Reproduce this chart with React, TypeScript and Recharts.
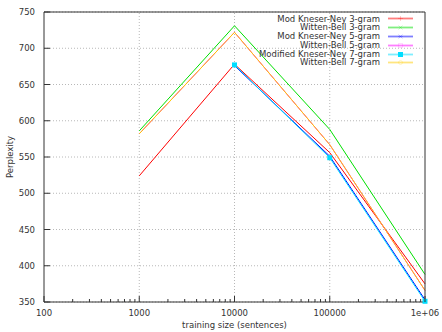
import React from 'react';
import { LineChart, Line, XAxis, YAxis, CartesianGrid, Legend, ReferenceLine } from 'recharts';

// training sizes (sentences)
const sizes = [1000, 10000, 100000, 1000000];

// perplexity per model
const modKN3 = [524, 678, 556, 375];
const wittenBell3 = [586, 731, 588, 388];
const modKN5 = [null, 676, 551, 353];
const wittenBell5 = [582, 722, 567, 366];
const modKN7 = [null, 677, 549, 351];
const wittenBell7 = [582, 722, 567, 366];

const xMajorTicks = [100, 1000, 10000, 100000, 1000000];
const xMinorTicks = [
  200, 300, 400, 500, 600, 700, 800, 900,
  2000, 3000, 4000, 5000, 6000, 7000, 8000, 9000,
  20000, 30000, 40000, 50000, 60000, 70000, 80000, 90000,
  200000, 300000, 400000, 500000, 600000, 700000, 800000, 900000,
];
const yTicks = [350, 400, 450, 500, 550, 600, 650, 700, 750];
const gridX = [1000, 10000, 100000];

const FONT = 'DejaVu Sans, sans-serif';
const TEXT = '#333';
const BORDER = '#333';

const series = [
  { key: 'mkn3', name: 'Mod Kneser-Ney 3-gram', color: '#ff0000', values: modKN3, mark: 'plus' },
  { key: 'wb3', name: 'Witten-Bell 3-gram', color: '#00e000', values: wittenBell3, mark: 'cross' },
  { key: 'mkn5', name: 'Mod Kneser-Ney 5-gram', color: '#0000ff', values: modKN5, mark: 'star' },
  { key: 'wb5', name: 'Witten-Bell 5-gram', color: '#ff00ff', values: wittenBell5, mark: 'box' },
  { key: 'mkn7', name: 'Modified Kneser-Ney 7-gram', color: '#00ddff', values: modKN7, mark: 'fbox' },
  { key: 'wb7', name: 'Witten-Bell 7-gram', color: '#ffcc00', values: wittenBell7, mark: 'circle' },
];

const data = sizes.map((s, i) => {
  const row: Record<string, number | null> = { size: s };
  series.forEach(se => { row[se.key] = se.values[i]; });
  return row;
});

const isMajor = (v: number) => xMajorTicks.includes(v);
const fmtX = (v: number) => (v >= 1000000 ? '1e+06' : String(v));

const BottomTick = (props: any) => {
  const { x, y, payload } = props;
  const major = isMajor(payload.value);
  return (
    <g>
      <line x1={x} x2={x} y1={y} y2={y - (major ? 6 : 3)} stroke={BORDER} />
      {major && (
        <text x={x} y={y + 14} textAnchor="middle" fill={TEXT} fontSize={8.5} fontFamily={FONT}>
          {fmtX(payload.value)}
        </text>
      )}
    </g>
  );
};

const TopTick = (props: any) => {
  const { x, y, payload } = props;
  const major = isMajor(payload.value);
  return <line x1={x} x2={x} y1={y} y2={y + (major ? 6 : 3)} stroke={BORDER} />;
};

const LeftTick = (props: any) => {
  const { x, y, payload } = props;
  return (
    <g>
      <line x1={x} x2={x + 6} y1={y} y2={y} stroke={BORDER} />
      <text x={x - 9} y={y + 3} textAnchor="end" fill={TEXT} fontSize={8.5} fontFamily={FONT}>
        {payload.value}
      </text>
    </g>
  );
};

const RightTick = (props: any) => {
  const { x, y } = props;
  return <line x1={x} x2={x - 6} y1={y} y2={y} stroke={BORDER} />;
};

const SquareDot = (props: any) => {
  const { cx, cy, index, stroke } = props;
  if (cx == null || cy == null) return <g key={index} />;
  return <rect key={index} x={cx - 2.5} y={cy - 2.5} width={5} height={5} fill={stroke} />;
};

// faint point symbols in the key, like the gnuplot sample
const Marker = ({ mark, color }: { mark: string; color: string }) => {
  const c = 12.5, m = 4.5;
  switch (mark) {
    case 'plus':
      return <path d={`M${c - 2.5},${m}H${c + 2.5}M${c},${m - 2.5}V${m + 2.5}`} stroke={color} strokeOpacity={0.2} />;
    case 'cross':
      return <path d={`M${c - 2},${m - 2}L${c + 2},${m + 2}M${c - 2},${m + 2}L${c + 2},${m - 2}`} stroke={color} strokeOpacity={0.2} />;
    case 'star':
      return <path d={`M${c - 2},${m - 2}L${c + 2},${m + 2}M${c - 2},${m + 2}L${c + 2},${m - 2}M${c - 2.5},${m}H${c + 2.5}`} stroke={color} strokeOpacity={0.2} />;
    case 'box':
      return <rect x={c - 2} y={m - 2} width={4} height={4} fill="none" stroke={color} strokeOpacity={0.15} />;
    case 'fbox':
      return <rect x={c - 2.5} y={m - 2.5} width={5} height={5} fill={color} />;
    default:
      return <circle cx={c} cy={m} r={2} fill="none" stroke={color} strokeOpacity={0.2} />;
  }
};

const KeyBox = () => (
  <div style={{ fontFamily: FONT, fontSize: 8.5, color: TEXT }}>
    {series.map(s => (
      <div
        key={s.key}
        style={{ display: 'flex', alignItems: 'center', justifyContent: 'flex-end', height: 8.8, lineHeight: '8.8px' }}
      >
        <span style={{ whiteSpace: 'nowrap' }}>{s.name}</span>
        <svg width={25} height={9} style={{ marginLeft: 8, display: 'block' }}>
          <line x1={0} x2={25} y1={4.5} y2={4.5} stroke={s.color} strokeWidth={1.8} strokeOpacity={0.5} />
          <Marker mark={s.mark} color={s.color} />
        </svg>
      </div>
    ))}
  </div>
);

export default function App() {
  return (
    <div style={{ position: 'absolute', left: 0, top: 0, background: '#fff' }}>
      <LineChart width={442} height={332} data={data} margin={{ top: 0, right: 0, bottom: 0, left: 0 }}>
        <CartesianGrid vertical={false} stroke="#b8b8b8" strokeDasharray="1 2" />
        {gridX.map(v => (
          <ReferenceLine key={v} x={v} stroke="#b8b8b8" strokeDasharray="1 2" />
        ))}
        <XAxis
          dataKey="size"
          type="number"
          scale="log"
          domain={[100, 1000000]}
          ticks={[...xMajorTicks, ...xMinorTicks]}
          interval={0}
          height={30}
          tickSize={0}
          tickMargin={0}
          tickLine={false}
          axisLine={{ stroke: BORDER }}
          tick={<BottomTick />}
          label={{
            content: (p: any) => {
              const vb = p.viewBox;
              return (
                <text x={vb.x + vb.width / 2} y={vb.y + 26} textAnchor="middle" fill={TEXT} fontSize={8.5} fontFamily={FONT}>
                  training size (sentences)
                </text>
              );
            },
          }}
        />
        <XAxis
          xAxisId="top"
          orientation="top"
          type="number"
          scale="log"
          domain={[100, 1000000]}
          ticks={[...xMajorTicks, ...xMinorTicks]}
          interval={0}
          height={12}
          tickSize={0}
          tickMargin={0}
          tickLine={false}
          axisLine={{ stroke: BORDER }}
          tick={<TopTick />}
        />
        <YAxis
          domain={[350, 750]}
          ticks={yTicks}
          interval={0}
          width={44}
          tickSize={0}
          tickMargin={0}
          tickLine={false}
          axisLine={{ stroke: BORDER }}
          tick={<LeftTick />}
          label={{
            content: (p: any) => {
              const vb = p.viewBox;
              const cx = vb.x + 10;
              const cy = vb.y + vb.height / 2;
              return (
                <text x={cx} y={cy} transform={`rotate(-90 ${cx} ${cy})`} textAnchor="middle" dominantBaseline="middle" fill={TEXT} fontSize={8.5} fontFamily={FONT}>
                  Perplexity
                </text>
              );
            },
          }}
        />
        <YAxis
          yAxisId="right"
          orientation="right"
          domain={[350, 750]}
          ticks={yTicks}
          interval={0}
          width={17}
          tickSize={0}
          tickMargin={0}
          tickLine={false}
          axisLine={{ stroke: BORDER }}
          tick={<RightTick />}
        />
        <Legend
          layout="vertical"
          align="center"
          verticalAlign="middle"
          content={<KeyBox />}
          wrapperStyle={{ left: 'auto', right: 29, top: 14.5, width: 'auto', height: 'auto' }}
        />
        {series.map(s => (
          <Line
            key={s.key}
            dataKey={s.key}
            name={s.name}
            type="linear"
            stroke={s.color}
            strokeWidth={1}
            connectNulls
            dot={s.mark === 'fbox' ? <SquareDot /> : false}
            activeDot={false}
            isAnimationActive={false}
          />
        ))}
      </LineChart>
    </div>
  );
}
